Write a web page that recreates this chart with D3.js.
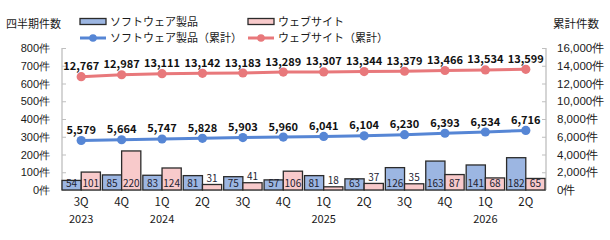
<!DOCTYPE html>
<html><head><meta charset="utf-8">
<script src="https://cdn.jsdelivr.net/npm/d3@7"></script>
<style>
html,body{margin:0;padding:0;background:#fff;}
svg{display:block;font-family:"Noto Sans CJK JP","Noto Sans",sans-serif;}
</style></head>
<body><svg id="c" width="610" height="240"></svg>
<script>
const quarters = ["3Q","4Q","1Q","2Q","3Q","4Q","1Q","2Q","3Q","4Q","1Q","2Q"];
const years = ["2023","","2024","","","","2025","","","","2026",""];
const softwareQ = [54,85,83,81,75,57,81,63,126,163,141,182];
const webQ = [101,220,124,31,41,106,18,37,35,87,68,65];
const softwareCum = [5579,5664,5747,5828,5903,5960,6041,6104,6230,6393,6534,6716];
const webCum = [12767,12987,13111,13142,13183,13289,13307,13344,13379,13466,13534,13599];
const leftTicks = [0,100,200,300,400,500,600,700,800];
const rightTicks = [0,2000,4000,6000,8000,10000,12000,14000,16000];
const seriesNames = ["ソフトウェア製品","ウェブサイト","ソフトウェア製品（累計）","ウェブサイト（累計）"];

const C = {blueBar:"#9cb6e2", pinkBar:"#f8cacb", blueLine:"#5686d5", redLine:"#e8787b", stroke:"#2b2b2b", axis:"#bfbfbf", text:"#1a1a1a"};
const svg = d3.select("#c");
const keys = quarters.map((q,i)=>i);
const x = d3.scaleBand().domain(keys).range([61,546]);
const yL = d3.scaleLinear().domain([0,800]).range([190,48]);
const yR = d3.scaleLinear().domain([0,16000]).range([190,48]);
const barW = 19.2;

// axes
const gL = svg.append("g").attr("transform","translate(62,0)")
  .call(d3.axisLeft(yL).tickValues(leftTicks).tickSize(-4).tickFormat(d=>d+"件"));
gL.select(".domain").attr("stroke",C.axis).attr("stroke-width",1.3);
gL.selectAll(".tick line").attr("stroke",C.axis);
gL.selectAll(".tick text").attr("x",-12).attr("fill",C.text).attr("font-size",11);

const gR = svg.append("g").attr("transform","translate(546,0)")
  .call(d3.axisRight(yR).tickValues(rightTicks).tickSize(-4).tickFormat(d=>d3.format(",")(d)+"件"));
gR.select(".domain").attr("stroke",C.axis).attr("stroke-width",1.3);
gR.selectAll(".tick line").attr("stroke",C.axis);
gR.selectAll(".tick text").attr("x",11).attr("fill",C.text).attr("font-size",11.5);
gL.selectAll("path.domain").attr("d","M0,48V190");
gR.selectAll("path.domain").attr("d","M0,48V190");

// baseline
svg.append("line").attr("x1",62).attr("x2",546).attr("y1",yL(0)).attr("y2",yL(0)).attr("stroke",C.axis).attr("stroke-width",1.3);

// bars
const cx = i => x(i)+x.bandwidth()/2;
function bars(data, off, fill){
  svg.append("g").selectAll("rect").data(data).join("rect")
    .attr("x",(d,i)=>cx(i)+off).attr("width",barW)
    .attr("y",d=>yL(d)).attr("height",d=>yL(0)-yL(d))
    .attr("fill",fill).attr("stroke",C.stroke).attr("stroke-width",1.3);
  svg.append("g").selectAll("text").data(data).join("text")
    .attr("x",(d,i)=>cx(i)+off+barW/2)
    .attr("y",d=> d<45 ? yL(d)-2.5 : 186.5)
    .attr("text-anchor","middle").attr("font-size",10).attr("fill","#1c2230")
    .text(d=>d);
}
bars(softwareQ,-barW,C.blueBar);
bars(webQ,0,C.pinkBar);

// lines
function line(data, color){
  svg.append("path").datum(data)
    .attr("d",d3.line().x((d,i)=>cx(i)).y(d=>yR(d)))
    .attr("fill","none").attr("stroke",color).attr("stroke-width",3);
  svg.append("g").selectAll("circle").data(data).join("circle")
    .attr("cx",(d,i)=>cx(i)).attr("cy",d=>yR(d)).attr("r",4.6).attr("fill",color);
  svg.append("g").selectAll("text").data(data).join("text")
    .attr("x",(d,i)=>cx(i)).attr("y",d=>yR(d)-6.5)
    .attr("text-anchor","middle").attr("font-size",11).attr("font-weight","bold").attr("fill","#111")
    .text(d=>d3.format(",")(d));
}
line(softwareCum,C.blueLine);
line(webCum,C.redLine);

// x labels
svg.append("g").selectAll("text").data(quarters).join("text")
  .attr("x",(d,i)=>cx(i)).attr("y",205.5).attr("text-anchor","middle")
  .attr("font-size",11.5).attr("fill",C.text).text(d=>d);
svg.append("g").selectAll("text").data(years).join("text")
  .attr("x",(d,i)=>cx(i)).attr("y",222.5).attr("text-anchor","middle")
  .attr("font-size",11).attr("fill",C.text).text(d=>d);

// titles
svg.append("text").attr("x",6).attr("y",28).attr("font-size",11).attr("fill",C.text).text("四半期件数");
svg.append("text").attr("x",553).attr("y",28).attr("font-size",11.5).attr("fill",C.text).text("累計件数");

// legend
const leg = [
  {x:80,y:22,type:"bar",fill:C.blueBar,name:seriesNames[0]},
  {x:248,y:22,type:"bar",fill:C.pinkBar,name:seriesNames[1]},
  {x:80,y:38,type:"line",fill:C.blueLine,name:seriesNames[2]},
  {x:248,y:38,type:"line",fill:C.redLine,name:seriesNames[3]}
];
leg.forEach(l=>{
  const g = svg.append("g");
  if(l.type==="bar"){
    g.append("rect").attr("x",l.x).attr("y",l.y-3.5).attr("width",26).attr("height",6)
      .attr("fill",l.fill).attr("stroke",C.stroke).attr("stroke-width",1.3);
  } else {
    g.append("line").attr("x1",l.x).attr("x2",l.x+26).attr("y1",l.y).attr("y2",l.y)
      .attr("stroke",l.fill).attr("stroke-width",3);
    g.append("circle").attr("cx",l.x+13).attr("cy",l.y).attr("r",3.8).attr("fill",l.fill);
  }
  g.append("text").attr("x",l.x+30).attr("y",l.y+4).attr("font-size",11).attr("fill",C.text).text(l.name);
});
</script></body></html>
